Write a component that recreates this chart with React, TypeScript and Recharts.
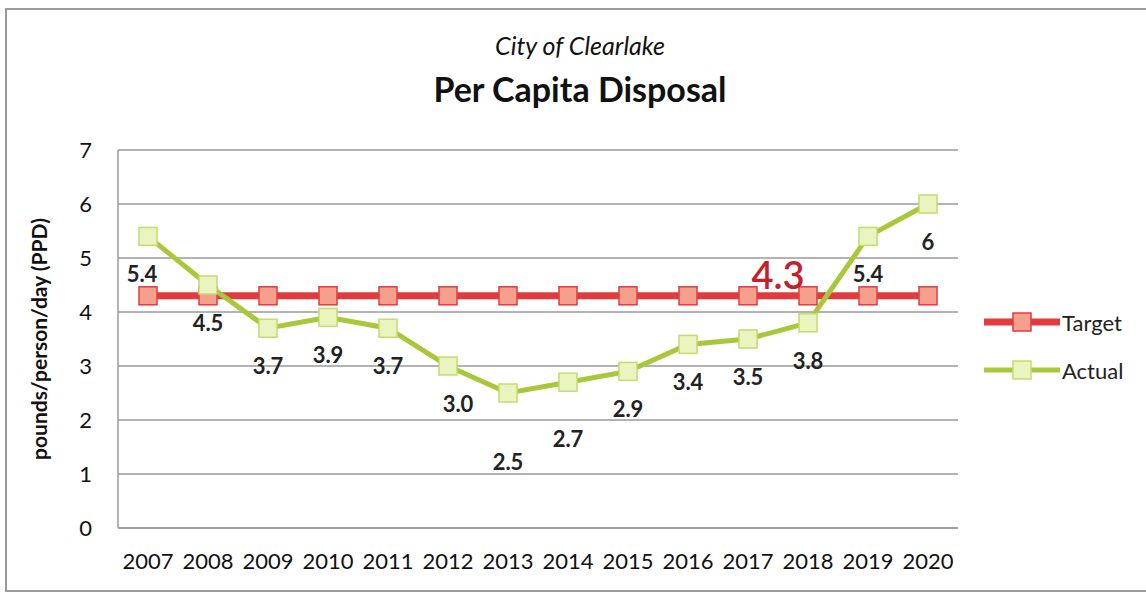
import React from 'react';
import {
  LineChart,
  Line,
  XAxis,
  YAxis,
  CartesianGrid,
  Legend,
  LabelList
} from 'recharts';

const years = ['2007', '2008', '2009', '2010', '2011', '2012', '2013', '2014', '2015', '2016', '2017', '2018', '2019', '2020'];
const targetValues = [4.3, 4.3, 4.3, 4.3, 4.3, 4.3, 4.3, 4.3, 4.3, 4.3, 4.3, 4.3, 4.3, 4.3];
const actualValues = [5.4, 4.5, 3.7, 3.9, 3.7, 3.0, 2.5, 2.7, 2.9, 3.4, 3.5, 3.8, 5.4, 6];
const actualLabels = ['5.4', '4.5', '3.7', '3.9', '3.7', '3.0', '2.5', '2.7', '2.9', '3.4', '3.5', '3.8', '5.4', '6'];
const targetLabels = ['', '', '', '', '', '', '', '', '', '', '', '4.3', '', ''];
const yTicks = [0, 1, 2, 3, 4, 5, 6, 7];

const data = years.map((year, i) => ({
  year,
  target: targetValues[i],
  actual: actualValues[i],
  actualLabel: actualLabels[i],
  targetLabel: targetLabels[i]
}));

const FONT = 'Lato, "Open Sans", sans-serif';
const RED = '#e23b3f';
const GREEN = '#a8c83a';

const SquareDot = (fill: string, stroke: string) => (props: any) => {
  const { cx, cy, index } = props;
  if (cx == null || cy == null) return null;
  return (
    <rect
      key={`dot-${index}`}
      x={cx - 9}
      y={cy - 9}
      width={18}
      height={18}
      fill={fill}
      stroke={stroke}
      strokeWidth={1.5}
    />
  );
};

// Excel nudged a couple of the low labels further down
const extraDrop: Record<number, number> = { 6: 31, 7: 19 };

const ActualLabel = (props: any) => {
  const { x, y, value, index } = props;
  const dx = index === 0 ? -6 : index === 5 ? 10 : 0;
  return (
    <text
      x={x + dx}
      y={y + 46 + (extraDrop[index] || 0)}
      textAnchor="middle"
      fontFamily={FONT}
      fontWeight="bold"
      fontSize={22}
      fill="#222"
    >
      {value}
    </text>
  );
};

const TargetLabel = (props: any) => {
  const { x, y, value } = props;
  if (!value) return null;
  return (
    <text
      x={x - 30}
      y={y - 7}
      textAnchor="middle"
      fontFamily={FONT}
      fontWeight={600}
      fontSize={38}
      fill="#c41f2b"
    >
      {value}
    </text>
  );
};

const LegendContent = () => (
  <div style={{ fontFamily: FONT, fontSize: 22, color: '#222' }}>
    {[
      { name: 'Target', line: RED, fill: '#f4a08c', stroke: RED, w: 7 },
      { name: 'Actual', line: GREEN, fill: '#eaf4bf', stroke: '#c4dc70', w: 5 }
    ].map((it, i) => (
      <div key={it.name} style={{ display: 'flex', alignItems: 'center', height: 24, marginBottom: i === 0 ? 24 : 0 }}>
        <svg width={80} height={24}>
          <line x1={2} y1={12} x2={78} y2={12} stroke={it.line} strokeWidth={it.w} />
          <rect x={31} y={3} width={18} height={18} fill={it.fill} stroke={it.stroke} strokeWidth={1.5} />
        </svg>
        <span>{it.name}</span>
      </div>
    ))}
  </div>
);

export default function App() {
  return (
    <div style={{ position: 'absolute', left: 0, top: 0, width: 1146, height: 594, background: '#fff', overflow: 'hidden' }}>
      <div
        style={{
          position: 'absolute',
          left: 5,
          top: 8,
          width: 1150,
          height: 580,
          border: '2px solid #9a9a9a'
        }}
      />
      <div style={{ position: 'absolute', left: 0, width: 1160, top: 28, textAlign: 'center', fontFamily: FONT, color: '#111' }}>
        <div style={{ fontStyle: 'italic', fontSize: 25, lineHeight: '34px' }}>City of Clearlake</div>
        <div style={{ fontWeight: 'bold', fontSize: 34, lineHeight: '46px', marginTop: 4 }}>Per Capita Disposal</div>
      </div>
      <div style={{ position: 'absolute', left: 0, top: 0 }}>
        <LineChart
          width={1146}
          height={594}
          data={data}
          margin={{ top: 150, right: 188, bottom: 0, left: 78 }}
        >
          <CartesianGrid vertical={false} stroke="#9a9a9a" strokeWidth={1.5} />
          <XAxis
            dataKey="year"
            height={66}
            padding={{ left: 30, right: 30 }}
            axisLine={{ stroke: '#9a9a9a', strokeWidth: 1.5 }}
            tickLine={false}
            tick={{ fontFamily: FONT, fontSize: 22, fill: '#111' }}
            tickMargin={19}
            interval={0}
          />
          <YAxis
            width={40}
            domain={[0, 7]}
            ticks={yTicks}
            axisLine={{ stroke: '#9a9a9a', strokeWidth: 1.5 }}
            tickLine={false}
            tick={{ fontFamily: FONT, fontSize: 22, fill: '#111', dx: -18 }}
            label={{
              value: 'pounds/person/day (PPD)',
              angle: -90,
              position: 'insideLeft',
              offset: 0,
              dx: -38,
              style: { fontFamily: FONT, fontSize: 21, fontWeight: 'bold', fill: '#111', textAnchor: 'middle' }
            }}
          />
          <Legend
            layout="vertical"
            align="center"
            verticalAlign="middle"
            content={<LegendContent />}
            wrapperStyle={{ left: 982, top: 310, width: 160 }}
          />
          <Line
            type="linear"
            dataKey="target"
            name="Target"
            stroke={RED}
            strokeWidth={7}
            dot={SquareDot('#f4a08c', RED)}
            isAnimationActive={false}
          >
            <LabelList dataKey="targetLabel" content={<TargetLabel />} />
          </Line>
          <Line
            type="linear"
            dataKey="actual"
            name="Actual"
            stroke={GREEN}
            strokeWidth={5}
            dot={SquareDot('#eaf4bf', '#c4dc70')}
            isAnimationActive={false}
          >
            <LabelList dataKey="actualLabel" content={<ActualLabel />} />
          </Line>
        </LineChart>
      </div>
    </div>
  );
}
